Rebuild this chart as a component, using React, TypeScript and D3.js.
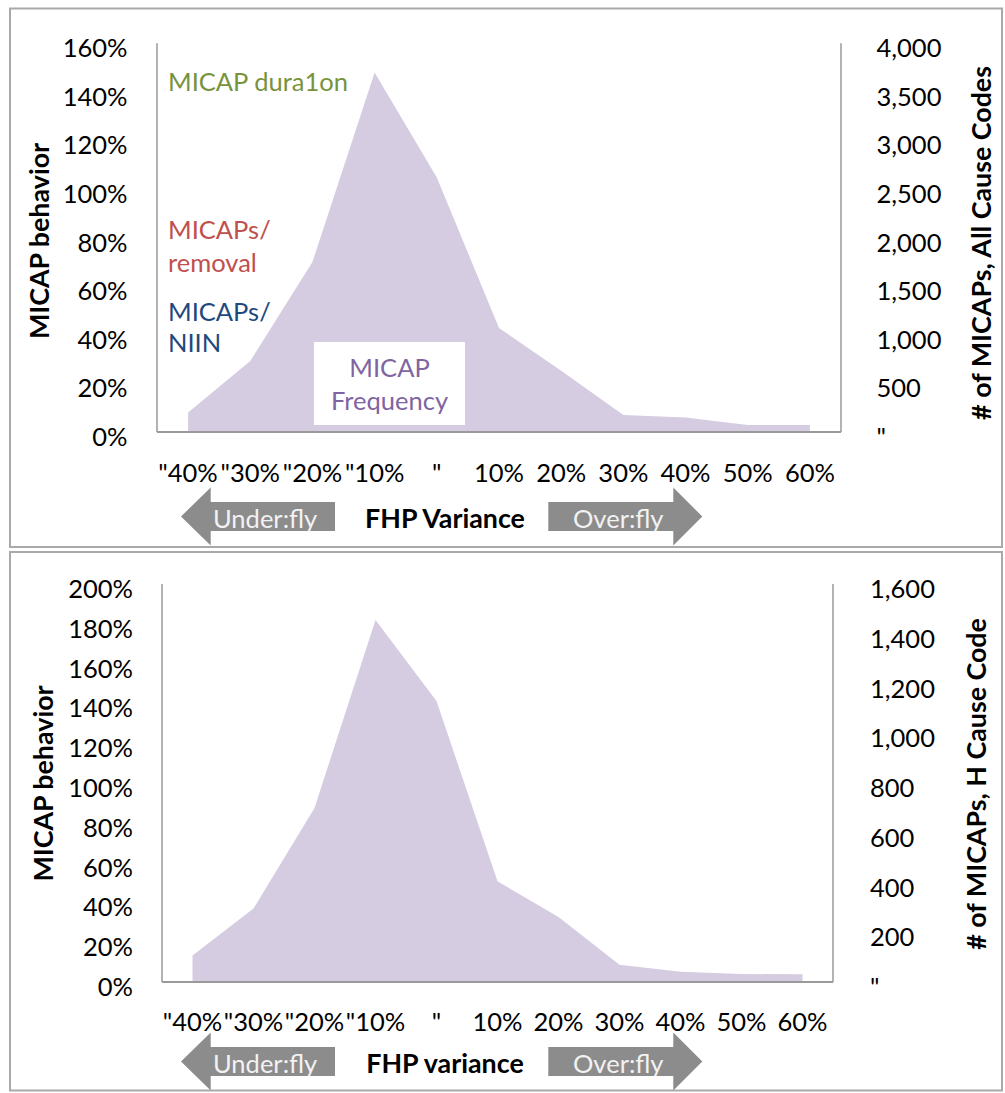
import React from "react";
import * as d3 from "d3";

// FHP variance buckets (minus signs and the zero bucket show as a quote mark)
const categories = ['"40%', '"30%', '"20%', '"10%', '"', "10%", "20%", "30%", "40%", "50%", "60%"];

// Number of MICAPs per FHP-variance bucket
const allCauseCounts = [200, 730, 1750, 3700, 2620, 1070, 630, 175, 150, 72, 72];
const hCauseCounts = [107, 295, 700, 1455, 1130, 405, 261, 69, 41, 32, 31];

// Axis tick values
const topLeftTicks = [0, 0.2, 0.4, 0.6, 0.8, 1.0, 1.2, 1.4, 1.6];
const topRightTicks = [0, 500, 1000, 1500, 2000, 2500, 3000, 3500, 4000];
const bottomLeftTicks = [0, 0.2, 0.4, 0.6, 0.8, 1.0, 1.2, 1.4, 1.6, 1.8, 2.0];
const bottomRightTicks = [0, 200, 400, 600, 800, 1000, 1200, 1400, 1600];

// Series captions shown in the upper chart
const behaviorCaptions = [
  { lines: ["MICAP dura1on"], color: "#77933c" },
  { lines: ["MICAPs/", "removal"], color: "#c0504d" },
  { lines: ["MICAPs/", "NIIN"], color: "#1f497d" },
];
const frequencyCaption = ["MICAP", "Frequency"];

const FONT = "Lato, 'Open Sans', sans-serif";
const FS = 25.5;
const FS_BOLD = 26.8;
const AXIS = "#9a9a9a";
const AREA = "#d5cce1";
const ARROW = "#8c8c8c";

const pct = (v: number) => `${Math.round(v * 100)}%`;
const cnt = (v: number) => (v === 0 ? '"' : d3.format(",")(v));

type PanelProps = {
  id: string;
  box: { x: number; y: number; w: number; h: number };
  plot: { left: number; right: number; top: number; bottom: number };
  leftTicks: number[];
  rightTicks: number[];
  counts: number[];
  leftTitle: { text: string; x: number; y: number };
  rightTitle: { text: string; x: number; y: number };
  xTitle: string;
  xLabelBaseline: number;
  arrowMid: number;
  leftLabelRight: number;
  rightLabelLeft: number;
  captions: boolean;
};

function Arrow({ id, dir, x0, x1, tip, mid, label, textX }: {
  id: string; dir: "left" | "right"; x0: number; x1: number; tip: number; mid: number; label: string; textX: number;
}) {
  const headH = 29;
  const shaftH = 14.5;
  const pts =
    dir === "left"
      ? [
          [tip, mid], [x0, mid - headH], [x0, mid - shaftH], [x1, mid - shaftH],
          [x1, mid + shaftH], [x0, mid + shaftH], [x0, mid + headH],
        ]
      : [
          [tip, mid], [x1, mid + headH], [x1, mid + shaftH], [x0, mid + shaftH],
          [x0, mid - shaftH], [x1, mid - shaftH], [x1, mid - headH],
        ];
  const d = "M" + pts.map((p) => p.join(",")).join("L") + "Z";
  return (
    <g>
      <defs>
        <clipPath id={id}>
          <rect x={x0} y={mid - shaftH} width={x1 - x0} height={shaftH * 2} />
        </clipPath>
      </defs>
      <path d={d} fill={ARROW} />
      <text x={textX} y={mid + 11} fill="#f2f2f2" fontFamily={FONT} fontSize={FS} clipPath={`url(#${id})`}>
        {label}
      </text>
    </g>
  );
}

function Panel(p: PanelProps) {
  const { plot } = p;
  const x = d3.scaleBand<string>().domain(categories).range([plot.left, plot.right]).padding(0);
  const cx = (c: string) => (x(c) as number) + x.bandwidth() / 2;
  const yL = d3.scaleLinear().domain([0, p.leftTicks[p.leftTicks.length - 1]]).range([plot.bottom, plot.top]);
  const yR = d3.scaleLinear().domain([0, p.rightTicks[p.rightTicks.length - 1]]).range([plot.bottom, plot.top]);
  const area = d3
    .area<number>()
    .x((_, i) => cx(categories[i]))
    .y0(yR(0))
    .y1((v) => yR(v));

  const mid = p.arrowMid;
  return (
    <g>
      <rect x={p.box.x} y={p.box.y} width={p.box.w} height={p.box.h} fill="#fff" stroke="#a9a9a9" strokeWidth={2} />
      <path d={area(p.counts) as string} fill={AREA} />

      {p.captions && (
        <g fontFamily={FONT} fontSize={FS}>
          <text x={168} y={90.5} fill={behaviorCaptions[0].color}>{behaviorCaptions[0].lines[0]}</text>
          {behaviorCaptions[1].lines.map((l, i) => (
            <text key={l} x={168} y={238.5 + i * 33} fill={behaviorCaptions[1].color}>{l}</text>
          ))}
          {behaviorCaptions[2].lines.map((l, i) => (
            <text key={l} x={168} y={320.5 + i * 31.5} fill={behaviorCaptions[2].color}>{l}</text>
          ))}
          <rect x={314} y={342} width={151} height={83} fill="#fff" />
          {frequencyCaption.map((l, i) => (
            <text key={l} x={389.5} y={377 + i * 33} textAnchor="middle" fill="#8064a2">{l}</text>
          ))}
        </g>
      )}

      {/* axis lines */}
      <line x1={plot.left} x2={plot.left} y1={plot.top} y2={plot.bottom} stroke={AXIS} strokeWidth={1.5} />
      <line x1={plot.right} x2={plot.right} y1={plot.top} y2={plot.bottom} stroke={AXIS} strokeWidth={1.5} />
      <line x1={plot.left} x2={plot.right} y1={plot.bottom} y2={plot.bottom} stroke={AXIS} strokeWidth={2} />

      <g fontFamily={FONT} fontSize={FS} fill="#000">
        {p.leftTicks.map((t) => (
          <text key={"l" + t} x={p.leftLabelRight} y={yL(t) + 4} textAnchor="end" dominantBaseline="central">{pct(t)}</text>
        ))}
        {p.rightTicks.map((t) => (
          <text key={"r" + t} x={p.rightLabelLeft} y={yR(t) + 4} textAnchor="start" dominantBaseline="central">{cnt(t)}</text>
        ))}
        {categories.map((c) => (
          <text key={"x" + c} x={cx(c)} y={p.xLabelBaseline} textAnchor="middle">{c}</text>
        ))}
      </g>

      <g fontFamily={FONT} fontSize={FS_BOLD} fontWeight="bold" fill="#000">
        <text transform={`translate(${p.leftTitle.x},${p.leftTitle.y}) rotate(-90)`} textAnchor="middle" dominantBaseline="central">
          {p.leftTitle.text}
        </text>
        <text transform={`translate(${p.rightTitle.x},${p.rightTitle.y}) rotate(-90)`} textAnchor="middle" dominantBaseline="central">
          {p.rightTitle.text}
        </text>
        <text x={445} y={mid + 11} textAnchor="middle">{p.xTitle}</text>
      </g>

      <Arrow id={p.id + "u"} dir="left" x0={210.7} x1={335} tip={181} mid={mid} label="Under:fly" textX={213} />
      <Arrow id={p.id + "o"} dir="right" x0={548.3} x1={673.3} tip={702.3} mid={mid} label="Over:fly" textX={573} />
    </g>
  );
}

export default function App() {
  return (
    <svg width={1005} height={1093} style={{ position: "absolute", left: 0, top: 0, background: "#fff" }}>
      <Panel
        id="p1"
        box={{ x: 10, y: 8.5, w: 992, h: 538.5 }}
        plot={{ left: 157, right: 841, top: 43.3, bottom: 432 }}
        leftTicks={topLeftTicks}
        rightTicks={topRightTicks}
        counts={allCauseCounts}
        leftTitle={{ text: "MICAP behavior", x: 38.5, y: 241 }}
        rightTitle={{ text: "# of MICAPs, All Cause Codes", x: 981, y: 243 }}
        xTitle="FHP Variance"
        xLabelBaseline={481.7}
        arrowMid={516.5}
        leftLabelRight={127.5}
        rightLabelLeft={876.5}
        captions={true}
      />
      <Panel
        id="p2"
        box={{ x: 10, y: 552, w: 992, h: 538.5 }}
        plot={{ left: 162, right: 833, top: 584, bottom: 982 }}
        leftTicks={bottomLeftTicks}
        rightTicks={bottomRightTicks}
        counts={hCauseCounts}
        leftTitle={{ text: "MICAP behavior", x: 43, y: 783.5 }}
        rightTitle={{ text: "# of MICAPs, H Cause Code", x: 976, y: 784 }}
        xTitle="FHP variance"
        xLabelBaseline={1031}
        arrowMid={1061.5}
        leftLabelRight={133}
        rightLabelLeft={870}
        captions={false}
      />
    </svg>
  );
}
